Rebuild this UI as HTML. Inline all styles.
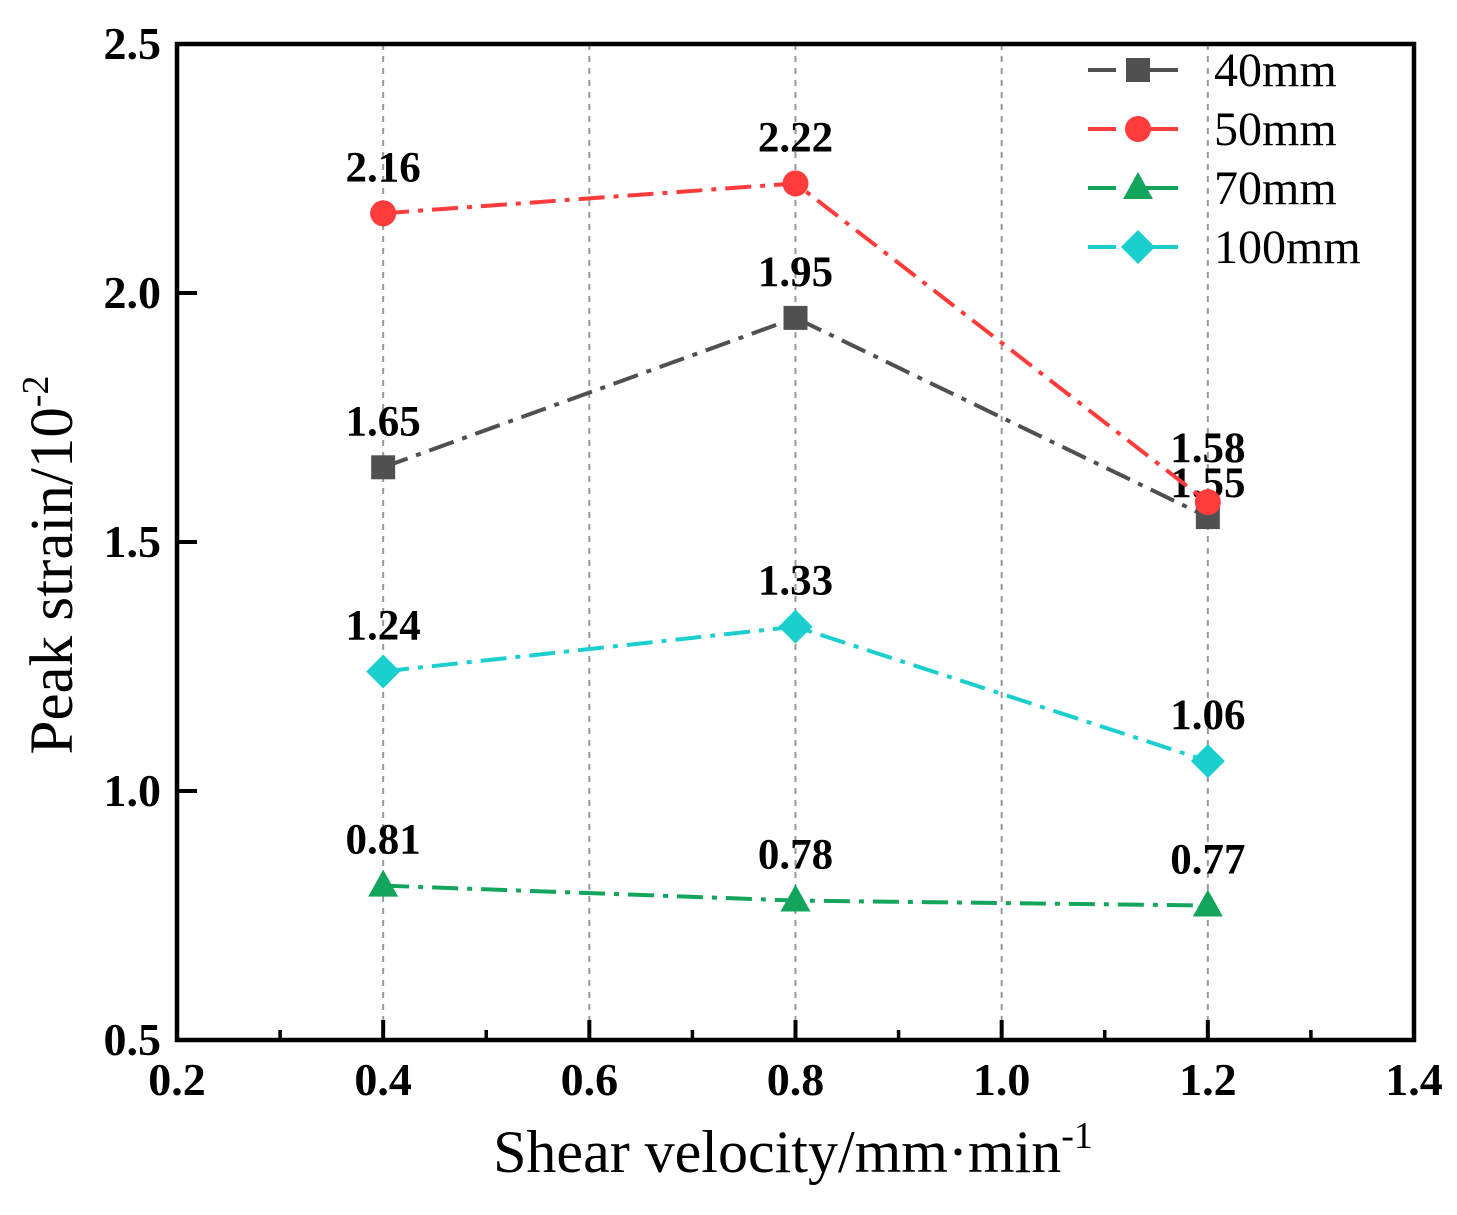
<!DOCTYPE html>
<html><head><meta charset="utf-8"><style>
body{margin:0;background:#fff}
svg text{font-family:"Liberation Serif",serif}
</style></head><body>
<svg id="chart" width="1457" height="1210" xmlns="http://www.w3.org/2000/svg"></svg>
<script>
const categories=[0.4,0.8,1.2];
const seriesNames=["40mm","50mm","70mm","100mm"];
const s40=[1.65,1.95,1.55];
const s50=[2.16,2.22,1.58];
const s70=[0.81,0.78,0.77];
const s100=[1.24,1.33,1.06];
const labels40=["1.65","1.95","1.55"];
const labels50=["2.16","2.22","1.58"];
const labels70=["0.81","0.78","0.77"];
const labels100=["1.24","1.33","1.06"];
const xTicks=["0.2","0.4","0.6","0.8","1.0","1.2","1.4"];
const yTicks=["0.5","1.0","1.5","2.0","2.5"];

const L=177,R=1414,T=44,B=1040;
const X=v=>L+(v-0.2)/1.2*(R-L);
const Y=v=>B-(v-0.5)/2*(B-T);
const svg=document.getElementById('chart');
const NS="http://www.w3.org/2000/svg";
function mk(tag,attrs,name,parent){const e=document.createElementNS(NS,tag);for(const k in attrs)e.setAttribute(k,attrs[k]);


(parent||svg).appendChild(e);return e;}

xTicks.forEach((t,i)=>{const v=parseFloat(t);if(i>0&&i<xTicks.length-1)mk('line',{x1:X(v),x2:X(v),y1:T,y2:B,stroke:'#999','stroke-width':2,'stroke-dasharray':'6,6'},'x-grid-line');});
mk('rect',{x:L,y:T,width:R-L,height:B-T,fill:'none',stroke:'#000','stroke-width':4.5},'plot-frame');
xTicks.forEach((t,i)=>{const v=parseFloat(t);const x=X(v);
 mk('line',{x1:x,x2:x,y1:B,y2:B-20,stroke:'#000','stroke-width':4},'x-major-tick');
 const tx=mk('text',{x:x,y:B+55,'text-anchor':'middle','font-size':46,'font-weight':'bold'},'x-tick-label');tx.textContent=t;
 if(i<xTicks.length-1){const m=X(v+0.1);mk('line',{x1:m,x2:m,y1:B,y2:B-10,stroke:'#000','stroke-width':3.5},'x-minor-tick');}
});
yTicks.forEach((t,i)=>{const v=parseFloat(t);const y=Y(v);
 mk('line',{x1:L,x2:L+20,y1:y,y2:y,stroke:'#000','stroke-width':4},'y-major-tick');
 const tx=mk('text',{x:L-16,y:y+15,'text-anchor':'end','font-size':46,'font-weight':'bold'},'y-tick-label');tx.textContent=t;
});
const xt=mk('text',{x:793,y:1172,'text-anchor':'middle','font-size':60},'x-axis-title');
xt.innerHTML='Shear velocity/mm·min<tspan dy="-24" font-size="38">-1</tspan>';
const yt=mk('text',{x:0,y:0,'text-anchor':'middle','font-size':61,transform:'translate(72,565) rotate(-90)'},'y-axis-title');
yt.innerHTML='Peak strain/10<tspan dy="-24" font-size="38">-2</tspan>';

function marker(type,x,y,c,name){
 if(type==='sq')return mk('rect',{x:x-12,y:y-12,width:24,height:24,fill:c},name);
 if(type==='ci')return mk('circle',{cx:x,cy:y,r:13,fill:c},name);
 if(type==='tr')return mk('polygon',{points:`${x},${y-16} ${x+15},${y+11} ${x-15},${y+11}`,fill:c},name);
 return mk('polygon',{points:`${x},${y-17} ${x+17},${y} ${x},${y+17} ${x-17},${y}`,fill:c},name);
}
const series=[[s40,labels40,'#505050','sq','40mm'],[s50,labels50,'#ff3b3b','ci','50mm'],[s70,labels70,'#13a55c','tr','70mm'],[s100,labels100,'#1ccfcf','di','100mm']];
series.forEach(([vals,labs,c,m,n])=>{
 const pts=vals.map((v,i)=>X(categories[i])+','+Y(v)).join(' ');
 mk('polyline',{points:pts,fill:'none',stroke:c,'stroke-width':4,'stroke-dasharray':'26,9,5,9'},'line-'+n);
 vals.forEach((v,i)=>{
  marker(m,X(categories[i]),Y(v),c,'point-'+n);
  let dy=-32; if(n==='40mm'&&i===2)dy=-20; if(n==='50mm'&&i===2)dy=-40;
  const t=mk('text',{x:X(categories[i]),y:Y(v)+dy,'text-anchor':'middle','font-size':43,'font-weight':'bold'},'value-label-'+n);t.textContent=labs[i];
 });
});
const leg=mk('g',{},'legend');
series.forEach(([v,l,c,m,n],i)=>{const y=70+i*59;
 const g=mk('g',{},'legend-entry',leg);
 mk('line',{x1:1088,x2:1116,y1:y,y2:y,stroke:c,'stroke-width':4},'legend-line',g);
 mk('line',{x1:1140,x2:1178,y1:y,y2:y,stroke:c,'stroke-width':4},'legend-line',g);
 const mm=marker(m,1138,y,c,'legend-marker');g.appendChild(mm);
 const t=mk('text',{x:1214,y:y+16,'font-size':48},'legend-label',g);t.textContent=n;
});
</script>
</body></html>
